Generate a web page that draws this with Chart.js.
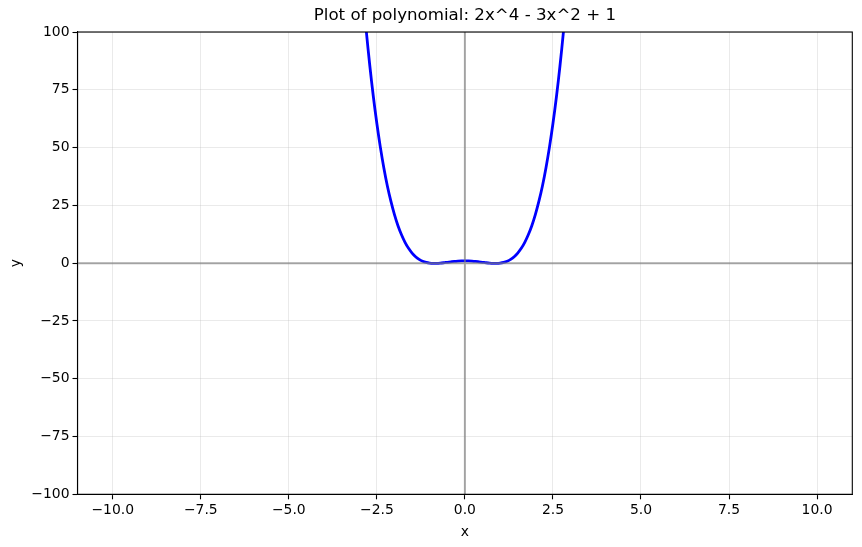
<!DOCTYPE html>
<html>
<head>
<meta charset="utf-8">
<script src="https://cdn.jsdelivr.net/npm/chart.js@4"></script>
<style>
  html, body { margin: 0; padding: 0; background: #ffffff; }
  #wrap { width: 862px; height: 547px; }
</style>
</head>
<body>
<div id="wrap"><canvas id="c" width="862" height="547"></canvas></div>
<script>
// Values (curve leaves the top of the plot near x = ±2.8)
const xValues = [
  -3.0, -2.9, -2.8, -2.7, -2.6, -2.5, -2.4, -2.3, -2.2, -2.1,
  -2.0, -1.9, -1.8, -1.7, -1.6, -1.5, -1.4, -1.3, -1.2, -1.1,
  -1.0, -0.9, -0.8, -0.7, -0.6, -0.5, -0.4, -0.3, -0.2, -0.1,
   0.0,
   0.1,  0.2,  0.3,  0.4,  0.5,  0.6,  0.7,  0.8,  0.9,  1.0,
   1.1,  1.2,  1.3,  1.4,  1.5,  1.6,  1.7,  1.8,  1.9,  2.0,
   2.1,  2.2,  2.3,  2.4,  2.5,  2.6,  2.7,  2.8,  2.9,  3.0
];
const yValues = [
  136.0, 117.2, 100.4, 85.4, 72.1, 60.4, 50.1, 41.1, 33.3, 26.7,
  21.0, 16.2, 12.3, 9.03, 6.43, 4.38, 2.80, 1.64, 0.83, 0.30,
  0.00, -0.12, -0.10, 0.01, 0.18, 0.38, 0.57, 0.75, 0.88, 0.97,
  1.00,
  0.97, 0.88, 0.75, 0.57, 0.38, 0.18, 0.01, -0.10, -0.12, 0.00,
  0.30, 0.83, 1.64, 2.80, 4.38, 6.43, 9.03, 12.3, 16.2, 21.0,
  26.7, 33.3, 41.1, 50.1, 60.4, 72.1, 85.4, 100.4, 117.2, 136.0
];
const xTickValues = [-10, -7.5, -5, -2.5, 0, 2.5, 5, 7.5, 10];
const yTickValues = [-100, -75, -50, -25, 0, 25, 50, 75, 100];
const chartTitle = 'Plot of polynomial: 2x^4 - 3x^2 + 1';
const xLabel = 'x';
const yLabel = 'y';

const FONT = "'DejaVu Sans', sans-serif";
const points = xValues.map((x, i) => ({ x: x, y: yValues[i] }));
const minus = s => s.replace('-', '\u2212');

// zero reference lines (drawn over the curve) and the full axes frame
const framePlugin = {
  id: 'frame',
  afterDatasetsDraw(chart) {
    const a = chart.chartArea;
    const ctx = chart.ctx;
    const x0 = chart.scales.x.getPixelForValue(0);
    const y0 = chart.scales.y.getPixelForValue(0);
    ctx.save();
    ctx.strokeStyle = 'rgba(128,128,128,0.68)';
    ctx.lineWidth = 2;
    ctx.beginPath();
    ctx.moveTo(a.left, y0); ctx.lineTo(a.right, y0);
    ctx.moveTo(x0, a.top); ctx.lineTo(x0, a.bottom);
    ctx.stroke();
    ctx.restore();
  },
  afterDraw(chart) {
    const a = chart.chartArea;
    const ctx = chart.ctx;
    ctx.save();
    ctx.strokeStyle = '#000000';
    ctx.lineWidth = 1.1;
    ctx.strokeRect(a.left, a.top, a.right - a.left, a.bottom - a.top);
    ctx.restore();
  }
};

const gridColor = 'rgba(176,176,176,0.3)';

new Chart(document.getElementById('c'), {
  type: 'scatter',
  data: {
    datasets: [{
      data: points,
      showLine: true,
      borderColor: '#0000ff',
      backgroundColor: '#0000ff',
      borderWidth: 2.8,
      pointRadius: 0,
      pointHoverRadius: 0,
      tension: 0.35,
      fill: false
    }]
  },
  options: {
    responsive: false,
    animation: false,
    events: [],
    layout: { padding: { left: 0, right: 9.7, top: 0, bottom: 0 } },
    plugins: {
      legend: { display: false },
      tooltip: { enabled: false },
      title: {
        display: true,
        fullSize: false,
        text: chartTitle,
        color: '#000000',
        font: { family: FONT, size: 16.67, weight: 'normal' },
        padding: { top: 6, bottom: 6 }
      }
    },
    scales: {
      x: {
        type: 'linear',
        min: -11,
        max: 11,
        afterBuildTicks: s => { s.ticks = xTickValues.map(v => ({ value: v })); },
        afterFit: s => { s.height = 52.7; },
        border: { display: true, color: '#000000', width: 1.1 },
        grid: { color: gridColor, lineWidth: 0.9, tickColor: '#000000', tickLength: 5, tickWidth: 1.1, drawTicks: true },
        ticks: {
          color: '#000000',
          font: { family: FONT, size: 13.9 },
          padding: 3,
          maxRotation: 0,
          callback: v => minus(Number(v).toFixed(1))
        },
        title: {
          display: true,
          text: xLabel,
          color: '#000000',
          font: { family: FONT, size: 13.9 },
          padding: { top: 0, bottom: 6 }
        }
      },
      y: {
        type: 'linear',
        min: -100,
        max: 100,
        afterBuildTicks: s => { s.ticks = yTickValues.map(v => ({ value: v })); },
        afterFit: s => { s.width = 77.5; },
        border: { display: true, color: '#000000', width: 1.1 },
        grid: { color: gridColor, lineWidth: 0.9, tickColor: '#000000', tickLength: 5, tickWidth: 1.1, drawTicks: true },
        ticks: {
          color: '#000000',
          font: { family: FONT, size: 13.9 },
          padding: 3,
          callback: v => minus(String(v))
        },
        title: {
          display: true,
          text: yLabel,
          color: '#000000',
          font: { family: FONT, size: 13.9 },
          padding: { top: 8, bottom: 0 }
        }
      }
    }
  },
  plugins: [framePlugin]
});
</script>
</body>
</html>
